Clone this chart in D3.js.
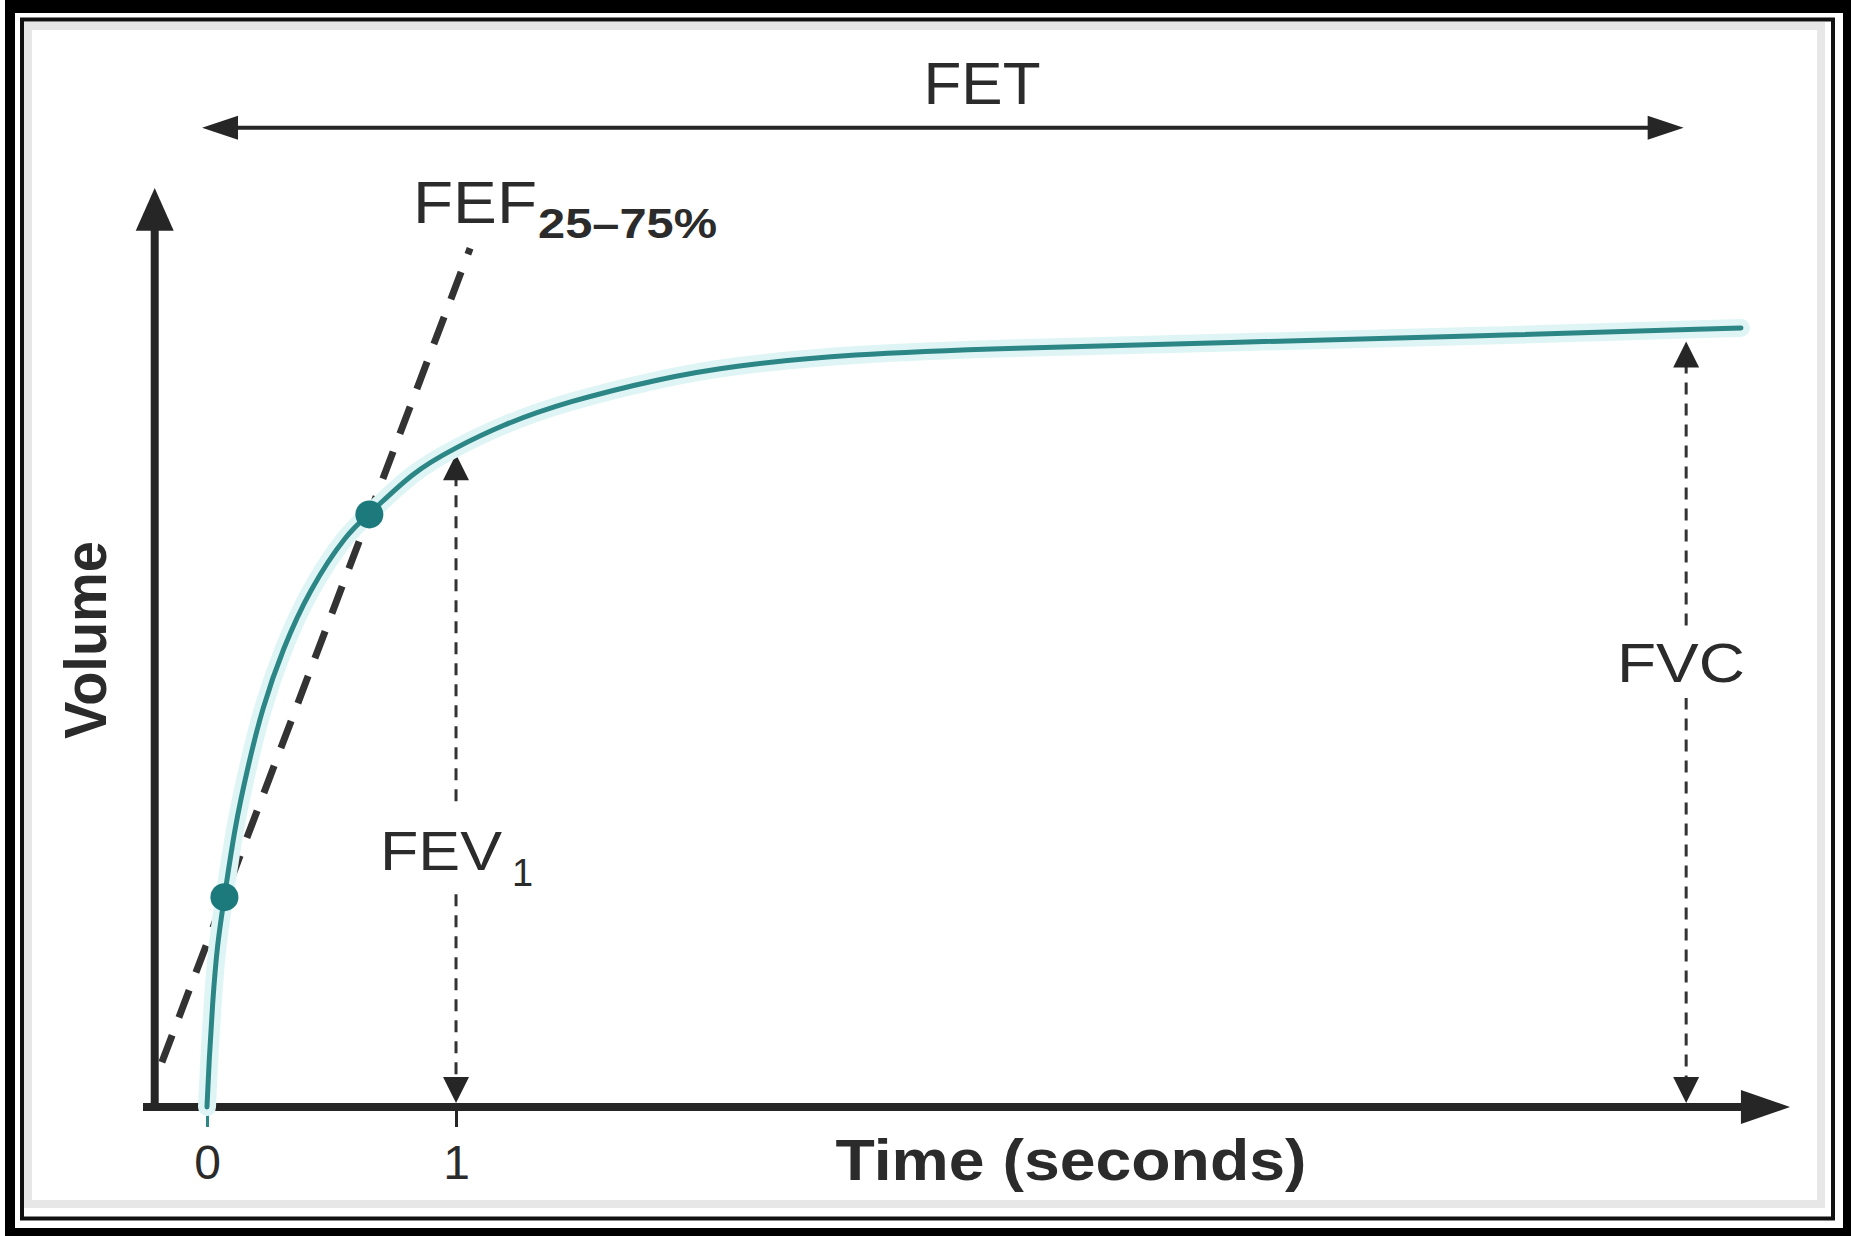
<!DOCTYPE html>
<html lang="en">
<head>
  <meta charset="UTF-8">
  <title>Spirometry volume-time curve</title>
  <script src="https://d3js.org/d3.v7.min.js"></script>
  <style>
    body { margin: 0; background: #fff; }
    svg { display: block; }
    text { font-family: "Liberation Sans", Arial, sans-serif; fill: #2b2b2b; }
  </style>
</head>
<body>
  <svg id="chart"></svg>
  <script>
    // volume-time curve (seconds, litres)
    const time   = [0, 0.008, 0.022, 0.041, 0.07, 0.112, 0.164, 0.221, 0.305, 0.41, 0.565, 0.652, 0.827, 0.993, 1.183, 1.444, 1.823, 2.107, 2.581, 3.197, 4.145, 5.093, 6.16];
    const volume = [0, 0.23, 0.53, 0.84, 1.08, 1.445, 1.75, 2.05, 2.36, 2.66, 2.96, 3.05, 3.27, 3.39, 3.51, 3.63, 3.75, 3.815, 3.875, 3.906, 3.936, 3.967, 4.01];
    // 25% and 75% points of FVC
    const markTime   = [0.07, 0.652];
    const markVolume = [1.08, 3.05];
    const fefEnds = [0.23, 4.42];        // volume span of the FEF25-75 line
    const tickValues = [0, 1];
    const fev1 = { t: 1, v: 3.36 };
    const fvc  = { t: 5.94, v: 3.94 };
    const fet  = { from: -0.02, to: 5.93, v: 5.04 };

    const W = 1851, H = 1236;
    const svg = d3.select("#chart").attr("width", W).attr("height", H);

    // frame
    svg.append("rect").attr("x", 5).attr("y", 0).attr("width", W - 5).attr("height", H).attr("fill", "#000");
    svg.append("rect").attr("x", 15).attr("y", 13).attr("width", W - 23).attr("height", H - 21).attr("fill", "#fff");
    svg.append("rect").attr("x", 28).attr("y", 26).attr("width", W - 58).attr("height", H - 58)
      .attr("fill", "none").attr("stroke", "#bbb").attr("stroke-width", 8).attr("opacity", 0.35);
    svg.append("rect").attr("x", 22).attr("y", 19.5).attr("width", W - 40).attr("height", H - 37)
      .attr("fill", "none").attr("stroke", "#111").attr("stroke-width", 4);

    const x = d3.scaleLinear().domain([-0.257, 6.357]).range([143, 1790]);
    const y = d3.scaleLinear().domain([0, 4.73]).range([1107, 188]);

    const ink = "#262626";
    const teal = "#2c8686";

    // axes
    svg.append("line").attr("x1", x(-0.257)).attr("x2", x(6.17)).attr("y1", y(0)).attr("y2", y(0))
      .attr("stroke", ink).attr("stroke-width", 8);
    svg.append("line").attr("x1", x(-0.21)).attr("x2", x(-0.21)).attr("y1", y(0) + 4).attr("y2", y(4.55))
      .attr("stroke", ink).attr("stroke-width", 8);
    svg.append("path")
      .attr("d", `M${x(6.357)},${y(0)}L${x(6.16)},${y(0) - 17}L${x(6.16)},${y(0) + 17}Z`).attr("fill", ink);
    svg.append("path")
      .attr("d", `M${x(-0.21)},${y(4.73)}L${x(-0.21) - 19},${y(4.51)}L${x(-0.21) + 19},${y(4.51)}Z`).attr("fill", ink);

    const xAxis = svg.append("g").attr("transform", `translate(0,${y(0)})`)
      .call(d3.axisBottom(x).tickValues(tickValues).tickFormat(d3.format("d")).tickSize(20).tickPadding(18));
    xAxis.select(".domain").remove();
    xAxis.selectAll(".tick line").attr("stroke", (d, i) => i === 0 ? teal : ink).attr("stroke-width", 3);
    xAxis.selectAll(".tick text").attr("font-size", 48).attr("fill", "#333");

    svg.append("text").attr("x", 1071).attr("y", 1180).attr("text-anchor", "middle")
      .attr("font-size", 58).attr("font-weight", "bold")
      .attr("textLength", 471).attr("lengthAdjust", "spacingAndGlyphs").text("Time (seconds)");
    svg.append("text").attr("transform", "translate(106,640) rotate(-90)").attr("text-anchor", "middle")
      .attr("font-size", 60).attr("font-weight", "bold")
      .attr("textLength", 198).attr("lengthAdjust", "spacingAndGlyphs").text("Volume");

    // FET arrow
    svg.append("line").attr("x1", x(fet.from) + 30).attr("x2", x(fet.to) - 30).attr("y1", y(fet.v)).attr("y2", y(fet.v))
      .attr("stroke", ink).attr("stroke-width", 4);
    svg.append("path").attr("fill", ink)
      .attr("d", `M${x(fet.from)},${y(fet.v)}l36,-12l0,24Z M${x(fet.to)},${y(fet.v)}l-36,-12l0,24Z`);
    svg.append("text").attr("x", 982).attr("y", 104).attr("text-anchor", "middle")
      .attr("font-size", 60).attr("textLength", 117).attr("lengthAdjust", "spacingAndGlyphs").text("FET");

    // dashed vertical arrows (FEV1, FVC)
    function vArrow(t, vTop) {
      const cx = x(t);
      svg.append("line").attr("x1", cx).attr("x2", cx).attr("y1", y(vTop) + 20).attr("y2", y(0) - 20)
        .attr("stroke", "#333").attr("stroke-width", 3).attr("stroke-dasharray", "12,9");
      svg.append("path").attr("fill", ink)
        .attr("d", `M${cx},${y(vTop)}l-13,26l26,0Z M${cx},${y(0) - 4}l-13,-26l26,0Z`);
    }
    vArrow(fev1.t, fev1.v);
    vArrow(fvc.t, fvc.v);

    // FEV1 label
    svg.append("rect").attr("x", 372).attr("y", 806).attr("width", 165).attr("height", 86).attr("fill", "#fff");
    svg.append("text").attr("x", 380).attr("y", 870).attr("font-size", 56)
      .attr("textLength", 122).attr("lengthAdjust", "spacingAndGlyphs").text("FEV");
    svg.append("text").attr("x", 512).attr("y", 886).attr("font-size", 38).text("1");

    // FVC label
    svg.append("rect").attr("x", 1608).attr("y", 632).attr("width", 146).attr("height", 66).attr("fill", "#fff");
    svg.append("text").attr("x", 1681).attr("y", 682).attr("text-anchor", "middle")
      .attr("font-size", 56).attr("textLength", 128).attr("lengthAdjust", "spacingAndGlyphs").text("FVC");

    // FEF25-75 secant line
    const slope = (markVolume[1] - markVolume[0]) / (markTime[1] - markTime[0]);
    const fefPts = fefEnds.map(v => [markTime[0] + (v - markVolume[0]) / slope, v]);
    svg.append("line")
      .attr("x1", x(fefPts[0][0])).attr("y1", y(fefPts[0][1]))
      .attr("x2", x(fefPts[1][0])).attr("y2", y(fefPts[1][1]))
      .attr("stroke", "#333").attr("stroke-width", 7).attr("stroke-dasharray", "29,19");
    svg.append("text").attr("x", 413).attr("y", 223).attr("font-size", 60)
      .attr("textLength", 124).attr("lengthAdjust", "spacingAndGlyphs").text("FEF");
    svg.append("text").attr("x", 538).attr("y", 238).attr("font-size", 42).attr("font-weight", "bold")
      .attr("fill", "#444").attr("textLength", 179).attr("lengthAdjust", "spacingAndGlyphs").text("25–75%");

    // the curve
    const pts = time.map((t, i) => [t, volume[i]]);
    const line = d3.line().x(d => x(d[0])).y(d => y(d[1])).curve(d3.curveBasis);
    svg.append("path").datum(pts).attr("d", line).attr("fill", "none")
      .attr("stroke", "#dff5f5").attr("stroke-width", 18).attr("stroke-linecap", "round");
    svg.append("path").datum(pts).attr("d", line).attr("fill", "none")
      .attr("stroke", teal).attr("stroke-width", 5).attr("stroke-linecap", "round");

    svg.append("g").selectAll("circle")
      .data(markTime.map((t, i) => [t, markVolume[i]]))
      .join("circle")
      .attr("cx", d => x(d[0])).attr("cy", d => y(d[1])).attr("r", 14)
      .attr("fill", "#1c7a7c");
  </script>
</body>
</html>
